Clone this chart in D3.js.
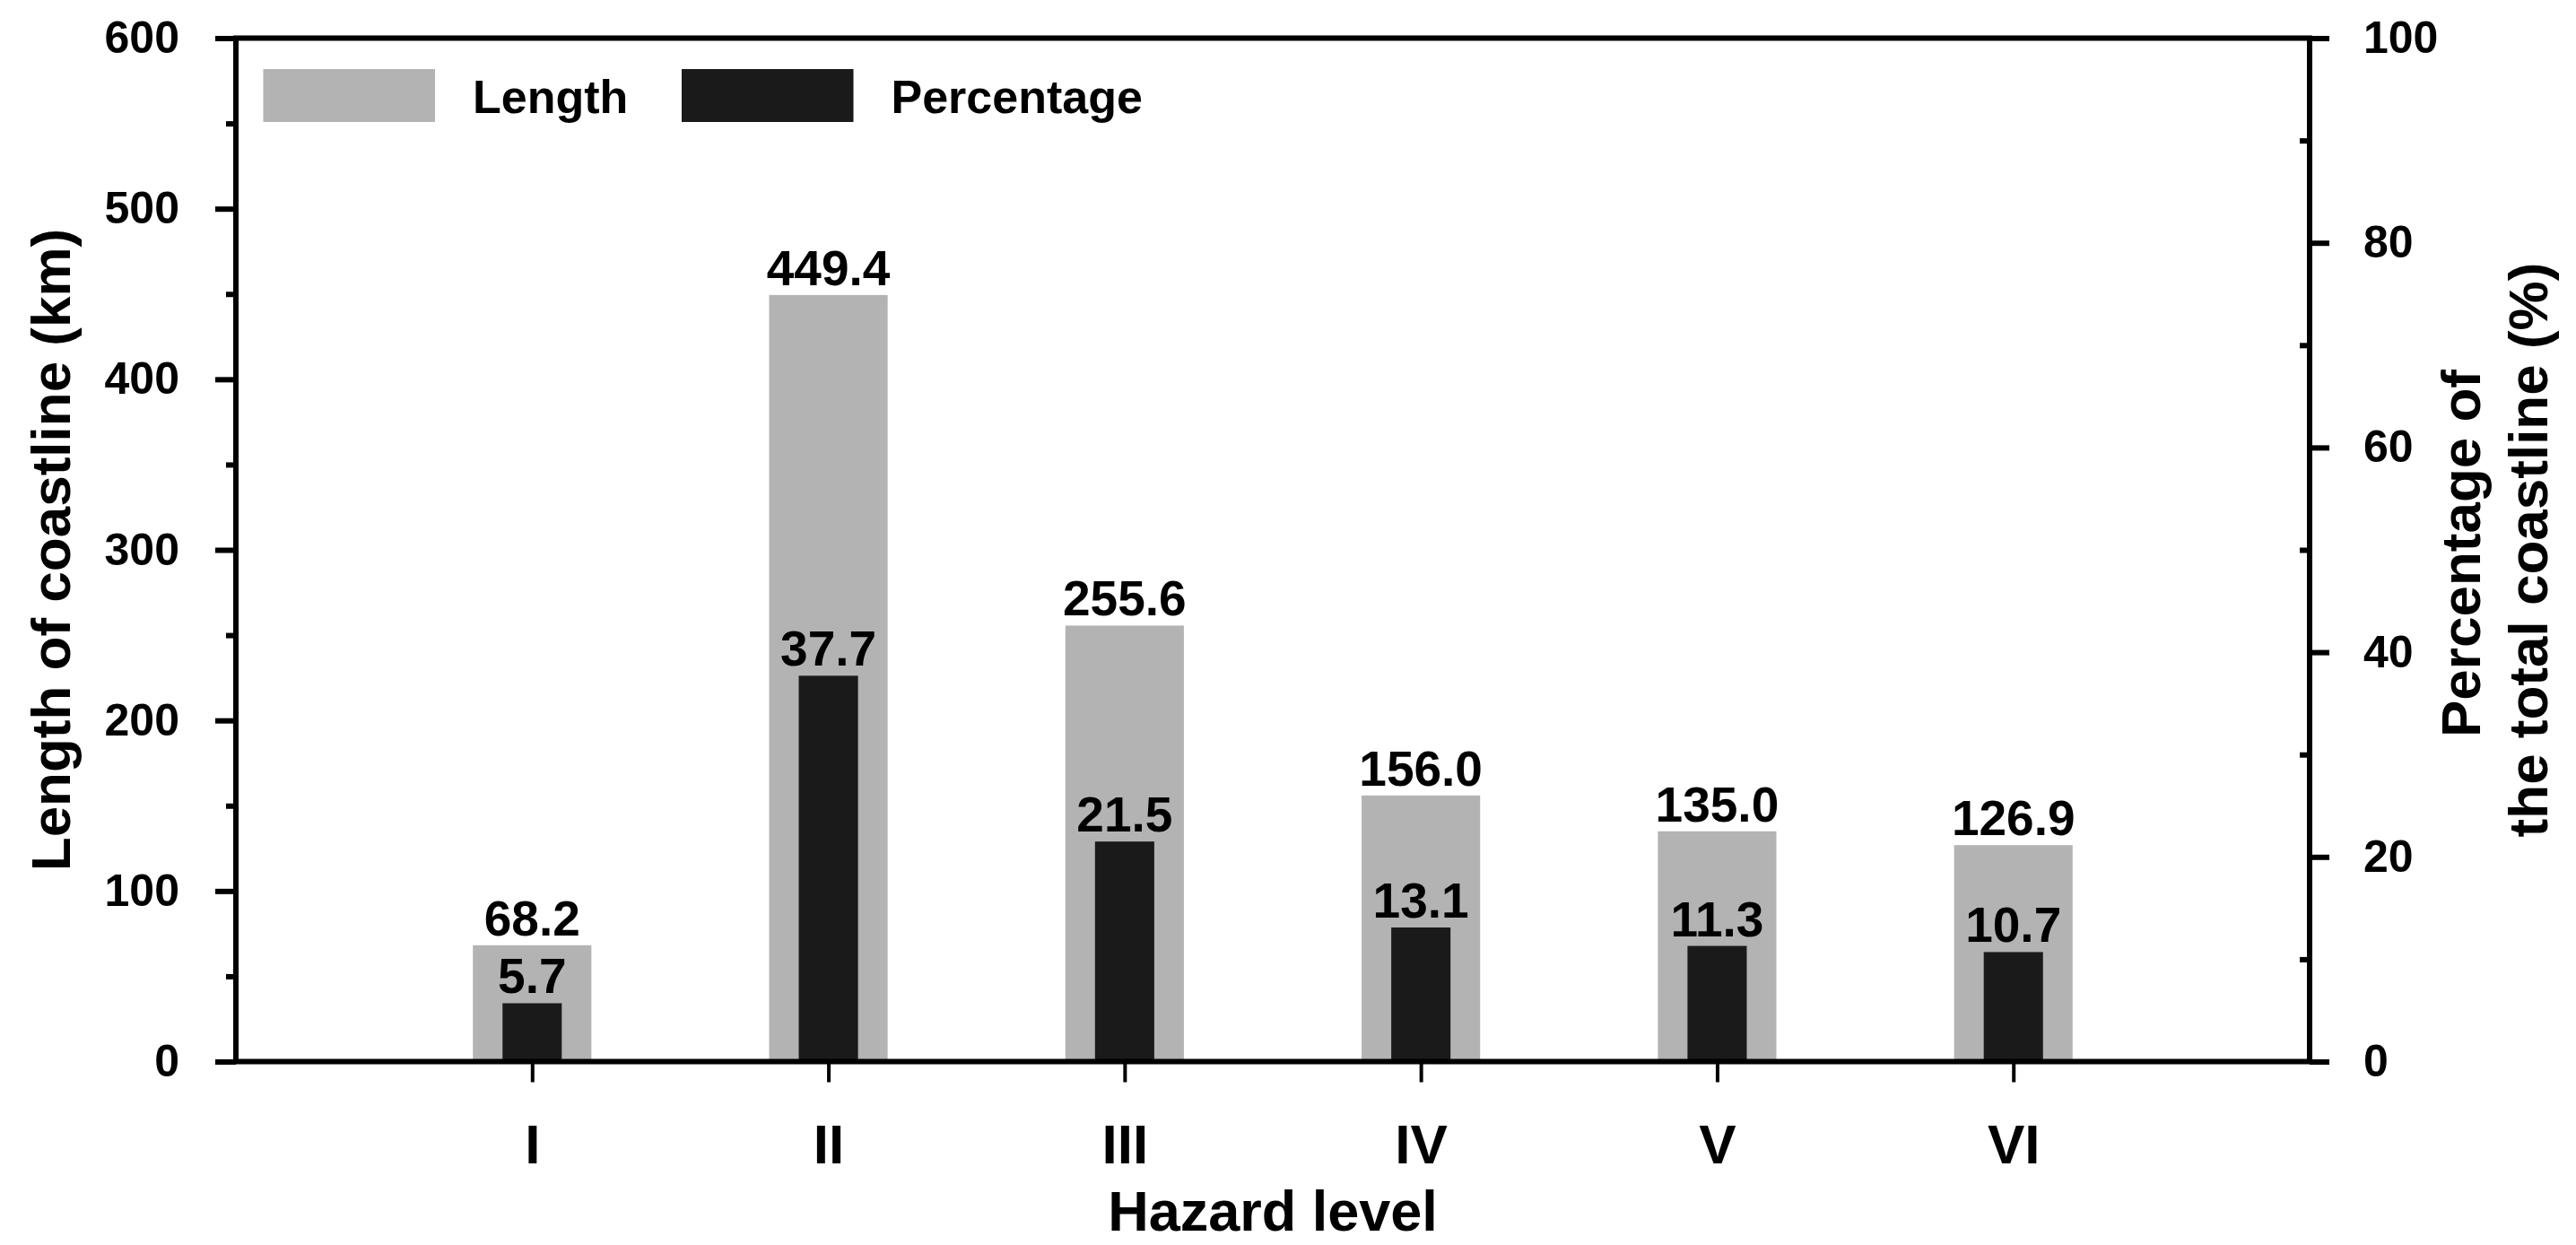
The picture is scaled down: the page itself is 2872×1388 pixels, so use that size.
<!DOCTYPE html>
<html>
<head>
<meta charset="utf-8">
<script src="https://cdn.jsdelivr.net/npm/d3@7"></script>
<style>
  html, body { margin: 0; padding: 0; background: #fff; }
  svg text { font-family: "Liberation Sans", Arial, sans-serif; font-weight: bold; fill: #000; }
</style>
</head>
<body>
<svg id="chart" width="2872" height="1388"></svg>
<script>
// ---- data ----
const categories = ["I", "II", "III", "IV", "V", "VI"];
const lengthValues = [68.2, 449.4, 255.6, 156.0, 135.0, 126.9];
const percentValues = [5.7, 37.7, 21.5, 13.1, 11.3, 10.7];
const lengthLabels = ["68.2", "449.4", "255.6", "156.0", "135.0", "126.9"];
const percentLabels = ["5.7", "37.7", "21.5", "13.1", "11.3", "10.7"];
const leftTicks = [0, 100, 200, 300, 400, 500, 600];
const leftMinorTicks = [50, 150, 250, 350, 450, 550];
const rightTicks = [0, 20, 40, 60, 80, 100];
const rightMinorTicks = [10, 30, 50, 70, 90];
const legendItems = ["Length", "Percentage"];

// ---- layout ----
const L = 263, R = 2575, T = 42.5, B = 1183.5;
const svg = d3.select("#chart");

const x = d3.scalePoint().domain(categories).range([L, R]).padding(1);
const step = x.step();
const yL = d3.scaleLinear().domain([0, 600]).range([B, T]);
const yR = d3.scaleLinear().domain([0, 100]).range([B, T]);

const grayW = step * 0.4, blackW = step * 0.2;

// bars: length (gray)
svg.append("g").selectAll("rect").data(categories).join("rect")
  .attr("x", d => x(d) - grayW / 2)
  .attr("width", grayW)
  .attr("y", (d, i) => yL(lengthValues[i]))
  .attr("height", (d, i) => B - yL(lengthValues[i]))
  .attr("fill", "#b3b3b3");

// bars: percentage (black)
svg.append("g").selectAll("rect").data(categories).join("rect")
  .attr("x", d => x(d) - blackW / 2)
  .attr("width", blackW)
  .attr("y", (d, i) => yR(percentValues[i]))
  .attr("height", (d, i) => B - yR(percentValues[i]))
  .attr("fill", "#1a1a1a");

// value labels
svg.append("g").selectAll("text").data(categories).join("text")
  .attr("x", d => x(d))
  .attr("y", (d, i) => yL(lengthValues[i]) - 11)
  .attr("text-anchor", "middle")
  .attr("font-size", 55)
  .text((d, i) => lengthLabels[i]);

svg.append("g").selectAll("text").data(categories).join("text")
  .attr("x", d => x(d))
  .attr("y", (d, i) => yR(percentValues[i]) - 11)
  .attr("text-anchor", "middle")
  .attr("font-size", 55)
  .text((d, i) => percentLabels[i]);

// ---- axes ----
function styleAxis(g, width) {
  g.select(".domain").remove();
  g.selectAll(".tick line").attr("stroke", "#000").attr("stroke-width", width);
}

// left major
svg.append("g").attr("transform", `translate(${L},0)`)
  .call(d3.axisLeft(yL).tickValues(leftTicks).tickSize(23).tickPadding(40).tickFormat(d3.format("d")))
  .call(g => styleAxis(g, 6))
  .call(g => g.selectAll("text").attr("font-size", 50).attr("font-family", null));
// left minor
svg.append("g").attr("transform", `translate(${L},0)`)
  .call(d3.axisLeft(yL).tickValues(leftMinorTicks).tickSize(11).tickFormat(""))
  .call(g => styleAxis(g, 6));

// right major
svg.append("g").attr("transform", `translate(${R},0)`)
  .call(d3.axisRight(yR).tickValues(rightTicks).tickSize(22).tickPadding(38).tickFormat(d3.format("d")))
  .call(g => styleAxis(g, 6))
  .call(g => g.selectAll("text").attr("font-size", 50).attr("font-family", null));
// right minor (inward)
svg.append("g").attr("transform", `translate(${R},0)`)
  .call(d3.axisLeft(yR).tickValues(rightMinorTicks).tickSize(11).tickFormat(""))
  .call(g => styleAxis(g, 6));

// bottom axis
svg.append("g").attr("transform", `translate(0,${B})`)
  .call(d3.axisBottom(x).tickSize(23).tickPadding(0))
  .call(g => styleAxis(g, 4))
  .call(g => g.selectAll("text").attr("font-size", 62).attr("font-family", null)
    .attr("dy", null).attr("y", 113.5));

// frame
svg.append("rect")
  .attr("x", L).attr("y", T).attr("width", R - L).attr("height", B - T)
  .attr("fill", "none").attr("stroke", "#000").attr("stroke-width", 6);

// ---- titles ----
svg.append("text")
  .attr("transform", `translate(78,${(T + B) / 2}) rotate(-90)`)
  .attr("text-anchor", "middle").attr("font-size", 62)
  .text("Length of coastline (km)");

svg.append("text")
  .attr("transform", `translate(2765,${(T + B) / 2 + 4}) rotate(-90)`)
  .attr("text-anchor", "middle").attr("font-size", 62)
  .text("Percentage of");
svg.append("text")
  .attr("transform", `translate(2840,${(T + B) / 2}) rotate(-90)`)
  .attr("text-anchor", "middle").attr("font-size", 62)
  .text("the total coastline (%)");

svg.append("text")
  .attr("x", (L + R) / 2).attr("y", 1372)
  .attr("text-anchor", "middle").attr("font-size", 63)
  .text("Hazard level");

// ---- legend ----
const legendColors = ["#b3b3b3", "#1a1a1a"];
const legendX = [293.5, 760];
const lg = svg.append("g");
lg.selectAll("rect").data(legendItems).join("rect")
  .attr("x", (d, i) => legendX[i]).attr("y", 77)
  .attr("width", 191.5).attr("height", 59)
  .attr("fill", (d, i) => legendColors[i]);
lg.selectAll("text").data(legendItems).join("text")
  .attr("x", (d, i) => legendX[i] + 233.5).attr("y", 126)
  .attr("font-size", 52)
  .text(d => d);
</script>
</body>
</html>
